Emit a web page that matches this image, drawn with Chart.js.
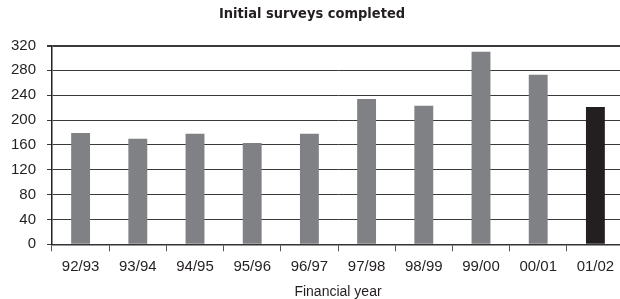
<!DOCTYPE html>
<html><head><meta charset="utf-8">
<script src="https://cdn.jsdelivr.net/npm/chart.js@4/dist/chart.umd.min.js"></script>
<style>
html,body{margin:0;padding:0;background:#fff;overflow:hidden;width:620px;height:299px;}
#wrap{position:absolute;left:0;top:0;width:676px;height:299px;}
</style></head>
<body><div id="wrap"><canvas id="c" width="676" height="299"></canvas></div>
<script>
const categories = ["92/93","93/94","94/95","95/96","96/97","97/98","98/99","99/00","00/01","01/02"];
const surveys = [179,170,178,163,178,234,223,310,273,221];
const barColors = ["#808184","#808184","#808184","#808184","#808184","#808184","#808184","#808184","#808184","#231f20"];
const yTicks = [0,40,80,120,160,200,240,280,320];
const titleText = "Initial surveys completed";
const xTitle = "Financial year";

const txt = "#231f20";
new Chart(document.getElementById('c'), {
  type: 'bar',
  data: { labels: categories, datasets: [{ data: surveys, backgroundColor: barColors, borderWidth: 0, barPercentage: 0.33, categoryPercentage: 1 }] },
  options: {
    responsive: false, animation: false,
    layout: { padding: { left: 0, right: 52, top: 0, bottom: 0 } },
    plugins: {
      legend: { display: false }, tooltip: { enabled: false },
      title: { display: true, text: titleText, color: txt,
        font: { family: "'Liberation Sans Narrow','DejaVu Sans Condensed','Liberation Sans',sans-serif", size: 14.5, weight: 'bold' },
        padding: { top: 6, bottom: 22.1 } }
    },
    scales: {
      x: {
        offset: true,
        grid: { display: true, drawOnChartArea: false, drawTicks: true, tickLength: 7, color: '#555', offset: true },
        border: { display: true, color: '#333', width: 1.5 },
        ticks: { color: txt, padding: 7, font: { family: "'Liberation Sans',Arial,sans-serif", size: 15 }, maxRotation: 0 },
        title: { display: true, text: xTitle, color: txt, font: { family: "'Liberation Sans',Arial,sans-serif", size: 14 }, padding: { top: 4, bottom: -2 } },
        afterFit: s => { s.height = 54.7; }
      },
      y: {
        min: 0, max: 320,
        afterBuildTicks: s => { s.ticks = yTicks.map(v => ({ value: v })); },
        grid: { color: '#3a3a3a', lineWidth: c => (c.tick && c.tick.value === 320 ? 2 : 1), drawTicks: true, tickLength: 5 },
        border: { display: true, color: '#222', width: 1.5 },
        ticks: { color: txt, padding: 11, font: { family: "'Liberation Sans',Arial,sans-serif", size: 15 } },
        afterFit: s => { s.width = 52; }
      }
    }
  }
});
</script></body></html>
